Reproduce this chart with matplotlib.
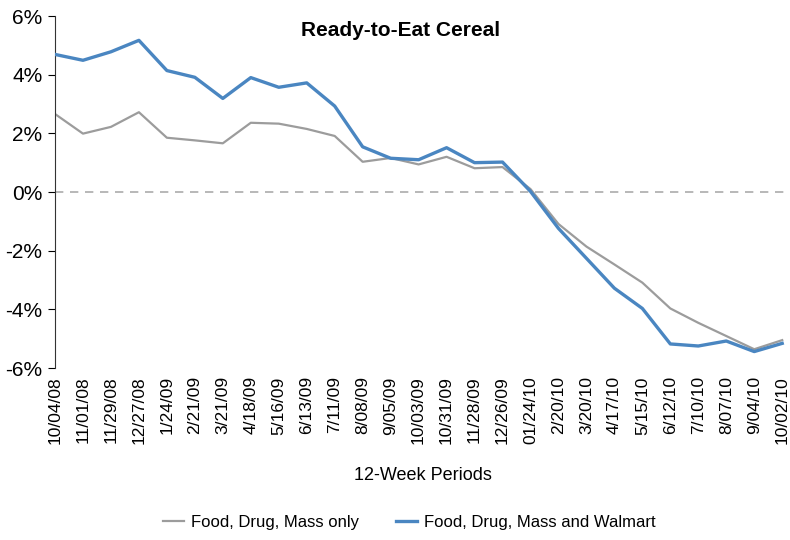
import matplotlib
matplotlib.use('Agg')
import matplotlib.pyplot as plt
from matplotlib import font_manager

## 폰트 선택 (Arial Narrow 비슷한 것)
names = set(f.name for f in font_manager.fontManager.ttflist)
font = 'Liberation Sans Narrow' if 'Liberation Sans Narrow' in names else 'Liberation Sans'
plt.rcParams['font.family'] = [font, 'DejaVu Sans']

## 데이터
periods = ['10/04/08', '11/01/08', '11/29/08', '12/27/08', '1/24/09', '2/21/09', '3/21/09',
           '4/18/09', '5/16/09', '6/13/09', '7/11/09', '8/08/09', '9/05/09', '10/03/09',
           '10/31/09', '11/28/09', '12/26/09', '01/24/10', '2/20/10', '3/20/10', '4/17/10',
           '5/15/10', '6/12/10', '7/10/10', '8/07/10', '9/04/10', '10/02/10']
fdm_only = [2.66, 1.99, 2.22, 2.72, 1.85, 1.76, 1.66, 2.36, 2.33, 2.15, 1.91, 1.03, 1.16, 0.94,
            1.20, 0.81, 0.85, 0.10, -1.09, -1.86, -2.47, -3.09, -3.97, -4.46, -4.91, -5.36, -5.05]
fdm_walmart = [4.69, 4.49, 4.78, 5.17, 4.14, 3.91, 3.19, 3.90, 3.57, 3.72, 2.93, 1.54, 1.15, 1.10,
               1.51, 1.00, 1.02, 0.02, -1.24, -2.26, -3.28, -3.97, -5.18, -5.25, -5.08, -5.44, -5.16]
yticks = [6, 4, 2, 0, -2, -4, -6]

fig = plt.figure(figsize=(7.9, 5.4), dpi=100)
ax = fig.add_axes([55 / 790, 1 - 368 / 540, 730 / 790, 352 / 540])

x = list(range(len(periods)))
ax.axhline(0, color='#ABABAB', lw=1.2, ls=(0, (5, 4)), zorder=1)
ax.plot(x, fdm_only, color='#9C9C9C', lw=1.6, label='Food, Drug, Mass only', zorder=2)
ax.plot(x, fdm_walmart, color='#4A86C1', lw=2.4, label='Food, Drug, Mass and Walmart', zorder=3)

ax.set_xlim(0, len(periods) - 1 + 0.1)
ax.set_ylim(-6, 6)
ax.set_yticks(yticks)
ax.set_yticklabels(['%d%%' % v for v in yticks], fontsize=15)
ax.set_xticks(x)
ax.set_xticklabels(periods, rotation=90, fontsize=12.5)
ax.tick_params(axis='x', length=0, pad=6)
ax.tick_params(axis='y', direction='out', length=5, pad=4)

for s in ['top', 'right', 'bottom']:
    ax.spines[s].set_visible(False)
ax.spines['left'].set_color('#333333')

fig.text(401 / 790, 1 - 31 / 540, 'Ready-to-Eat Cereal', ha='center', va='center',
         fontsize=15, fontweight='bold')
fig.text(423 / 790, 1 - 476 / 540, '12-Week Periods', ha='center', va='center', fontsize=13)

fig.legend(loc='center', bbox_to_anchor=(409 / 790, 1 - 522 / 540), ncol=2, frameon=False,
           fontsize=12, handlelength=1.3, columnspacing=2.2, handletextpad=0.4)

plt.savefig('out.png', dpi=100)
